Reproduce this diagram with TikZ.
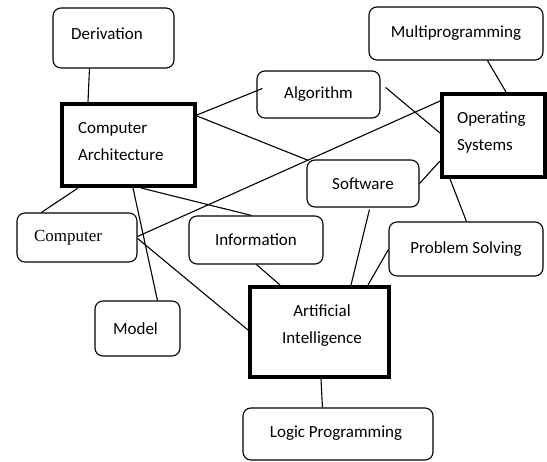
\documentclass[tikz,border=0pt]{standalone}
\usepackage{fontspec}
\setmainfont{Carlito}
\newfontfamily\serifface{Liberation Serif}
\usetikzlibrary{calc}

\tikzset{
  concept/.style={draw, line width=1.1pt, rounded corners=8pt, fill=white,
    inner sep=0pt, font=\fontsize{17}{27}\selectfont},
  topic/.style={draw, line width=4pt, fill=white, inner sep=0pt,
    font=\fontsize{17}{27}\selectfont},
  link/.style={line width=1.1pt}
}
% invisible strut: pushes a label sideways (width) or upwards (depth)
\newcommand{\padright}[1]{\rule{#1}{0pt}}
\newcommand{\padbelow}[1]{\rule[-#1]{0pt}{0pt}}

\begin{document}
\begin{tikzpicture}[x=1pt, y=-1pt]
\useasboundingbox (0,0) rectangle (547,462);

% concept boxes (centres and sizes in picture units)
\node[concept, minimum width=121pt, minimum height=60pt] (der) at (113.5,38) {Derivation\padright{13pt}\padbelow{9pt}};
\node[concept, minimum width=174pt, minimum height=53pt] (mp) at (456,33.5) {Multiprogramming\padbelow{3pt}};
\node[concept, minimum width=123pt, minimum height=47pt] (alg) at (318.5,94.5) {Algorithm};
\node[concept, minimum width=112pt, minimum height=47pt] (sw) at (363,183.5) {Software};
\node[concept, minimum width=120pt, minimum height=49pt, font=\serifface\fontsize{17}{20}\selectfont] (comp) at (77,237.5) {Computer\padright{18pt}};
\node[concept, minimum width=134pt, minimum height=48pt] (info) at (256,240) {Information};
\node[concept, minimum width=85pt, minimum height=55pt] (model) at (137.5,328.5) {Model\padright{4pt}};
\node[concept, minimum width=154pt, minimum height=54pt] (ps) at (466,249) {Problem Solving\padbelow{3pt}};
\node[concept, minimum width=190pt, minimum height=52pt] (lp) at (338,434) {Logic Programming\padright{4pt}\padbelow{5pt}};

% main topics
\node[topic, minimum width=133pt, minimum height=82pt, text width=101pt, align=left] (ca) at (128.5,145) {Computer\\Architecture\padbelow{7pt}};
\node[topic, minimum width=103pt, minimum height=83pt, text width=73pt, align=left] (os) at (493.5,135.5) {Operating\\Systems\padbelow{8pt}};
\node[topic, minimum width=139pt, minimum height=90pt, text width=130pt, align=center] (ai) at (319.5,332) {\hspace*{5pt}Artificial\\\hspace*{5pt}Intelligence\padbelow{16pt}};

% connectors
\draw[link] ($(der.south west)+(37,0)$) -- ($(ca.north west)+(28,0)$);
\draw[link] ($(ca.north east)+(0,13)$) -- ($(alg.north west)+(6,18)$);
\draw[link] ($(ca.north east)+(0,14)$) -- ($(sw.north west)+(2,1)$);
\draw[link] ($(alg.north east)+(5,17)$) -- ($(os.north west)+(0,41)$);
\draw[link] ($(comp.north east)+(0,24)$) -- ($(os.north west)+(0,9)$);
\draw[link] (sw.east) -- ($(os.north west)+(0,69)$);
\draw[link] ($(mp.south west)+(119,0)$) -- ($(os.north west)+(66,0)$);
\draw[link] ($(os.south west)+(10,0)$) -- ($(ps.north west)+(78,0)$);
\draw[link] ($(ca.south west)+(18,0)$) -- ($(comp.north west)+(25,0)$);
\draw[link] ($(ca.south west)+(73,0)$) -- ($(model.north west)+(63,0)$);
\draw[link] ($(ca.south west)+(81,0)$) -- ($(info.north west)+(63,0)$);
\draw[link] ($(comp.north east)+(0,26)$) -- ($(ai.north west)+(0,45)$);
\draw[link] ($(info.south west)+(68,0)$) -- ($(ai.north west)+(32,0)$);
\draw[link] ($(sw.south west)+(63,2)$) -- ($(ai.north west)+(103,0)$);
\draw[link] ($(ps.north west)+(0,28)$) -- ($(ai.north west)+(120,0)$);
\draw[link] ($(ai.south west)+(73,0)$) -- ($(lp.north west)+(80,0)$);
\end{tikzpicture}
\end{document}
